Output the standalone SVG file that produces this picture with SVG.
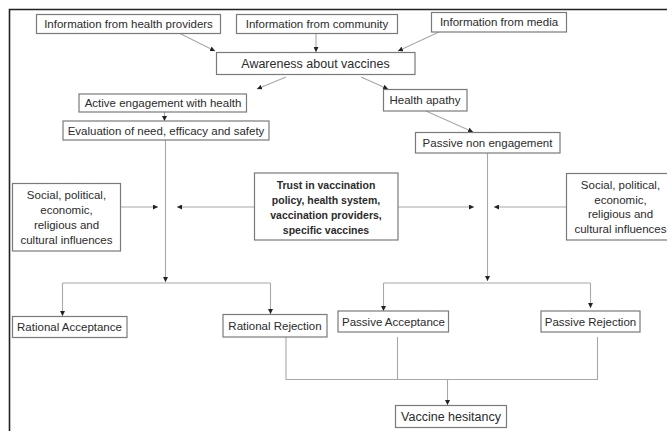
<svg xmlns="http://www.w3.org/2000/svg" width="667" height="431" viewBox="0 0 667 431">
<style>
.box{fill:#fff;stroke:#7a7a7a;stroke-width:1.2}
.t{font-family:"Liberation Sans",Arial,sans-serif;font-size:11.5px;fill:#2b2b2b;text-anchor:middle}
.big{font-size:12.5px}
.b{font-weight:bold;font-size:10.5px}
.ln{fill:none;stroke:#a8a8a8;stroke-width:1.1}
.ar{marker-end:url(#ah)}
</style>
<defs>
<marker id="ah" viewBox="0 0 6 6" refX="6" refY="3" markerWidth="5" markerHeight="5" markerUnits="userSpaceOnUse" orient="auto">
<path d="M0,0 L6,3 L0,6 z" fill="#222"/>
</marker>
</defs>
<rect width="667" height="431" fill="#fff"/>
<g id="frame">
<path d="M9.5,431 V9.5 H667" fill="none" stroke="#222" stroke-width="1.6"/>
</g>
<g id="connectors">
<path class="ln ar" d="M177,32 L215,51"/>
<path class="ln ar" d="M316,33 L316,52"/>
<path class="ln ar" d="M439,32 L398,51"/>
<path class="ln ar" d="M286,77 L257,89"/>
<path class="ln ar" d="M361,77 L388,89"/>
<path class="ln ar" d="M164.5,112 L164.5,121"/>
<path class="ln ar" d="M426,111 L473,132"/>
<path class="ln ar" d="M165.5,140 L165.5,282"/>
<path class="ln ar" d="M487.5,153 L487.5,281"/>
<path class="ln ar" d="M121,207 L158,207"/>
<path class="ln ar" d="M254,207 L177,207"/>
<path class="ln ar" d="M398,207 L474,207"/>
<path class="ln ar" d="M566,207 L494,207"/>
<path class="ln" d="M62.5,283 H270.5"/>
<path class="ln ar" d="M62.5,283 V316"/>
<path class="ln ar" d="M270.5,283 V314"/>
<path class="ln" d="M383.5,283 H590.5"/>
<path class="ln ar" d="M383.5,283 V311"/>
<path class="ln ar" d="M590.5,283 V308"/>
<path class="ln" d="M286,337 V379.5 H597.5 V337"/>
<path class="ln" d="M397.5,337 V379.5"/>
<path class="ln ar" d="M447.5,379.5 V405"/>
</g>
<g id="n1"><rect class="box" x="36.5" y="14.5" width="184" height="19"/><text class="t" x="128.5" y="28">Information from health providers</text></g>
<g id="n2"><rect class="box" x="236.5" y="14.5" width="161" height="19"/><text class="t" x="317" y="28">Information from community</text></g>
<g id="n3"><rect class="box" x="431.5" y="12.5" width="135" height="19.5"/><text class="t" x="499" y="26">Information from media</text></g>
<g id="n4"><rect class="box" x="216.5" y="52.5" width="198.5" height="22"/><text class="t big" x="315.5" y="68">Awareness about vaccines</text></g>
<g id="n5"><rect class="box" x="79" y="94" width="167.5" height="18"/><text class="t" x="163" y="107">Active engagement with health</text></g>
<g id="n6"><rect class="box" x="63" y="121" width="206" height="19"/><text class="t" x="166" y="134.5">Evaluation of need, efficacy and safety</text></g>
<g id="n7"><rect class="box" x="383.5" y="89.5" width="83.5" height="21.5"/><text class="t" x="425" y="104">Health apathy</text></g>
<g id="n8"><rect class="box" x="415.5" y="132.5" width="144.5" height="20.5"/><text class="t" x="487.5" y="147">Passive non engagement</text></g>
<g id="n9"><rect class="box" x="12.5" y="183.5" width="108" height="67.5"/>
<text class="t" x="66.5"><tspan x="66.5" y="199">Social, political,</tspan><tspan x="66.5" y="214">economic,</tspan><tspan x="66.5" y="229">religious and</tspan><tspan x="66.5" y="244">cultural influences</tspan></text></g>
<g id="n10"><rect class="box" x="254.5" y="173" width="143.5" height="67"/>
<text class="t b" x="326"><tspan x="326" y="189">Trust in vaccination</tspan><tspan x="326" y="204">policy, health system,</tspan><tspan x="326" y="219">vaccination providers,</tspan><tspan x="326" y="234">specific vaccines</tspan></text></g>
<g id="n11"><rect class="box" x="566.5" y="173.5" width="108" height="66.5"/>
<text class="t" x="620.5"><tspan x="620.5" y="189">Social, political,</tspan><tspan x="620.5" y="203.5">economic,</tspan><tspan x="620.5" y="218">religious and</tspan><tspan x="620.5" y="232.5">cultural influences</tspan></text></g>
<g id="n12"><rect class="box" x="12.5" y="316.5" width="114.5" height="21"/><text class="t" x="69.5" y="331">Rational Acceptance</text></g>
<g id="n13"><rect class="box" x="223" y="314.5" width="104" height="22.5"/><text class="t" x="275" y="330">Rational Rejection</text></g>
<g id="n14"><rect class="box" x="338" y="311" width="110.5" height="21"/><text class="t" x="393.5" y="325.5">Passive Acceptance</text></g>
<g id="n15"><rect class="box" x="541" y="311" width="99" height="21"/><text class="t" x="590.5" y="325.5">Passive Rejection</text></g>
<g id="n16"><rect class="box" x="395.5" y="405.5" width="111" height="22"/><text class="t big" x="451" y="421">Vaccine hesitancy</text></g>
</svg>
